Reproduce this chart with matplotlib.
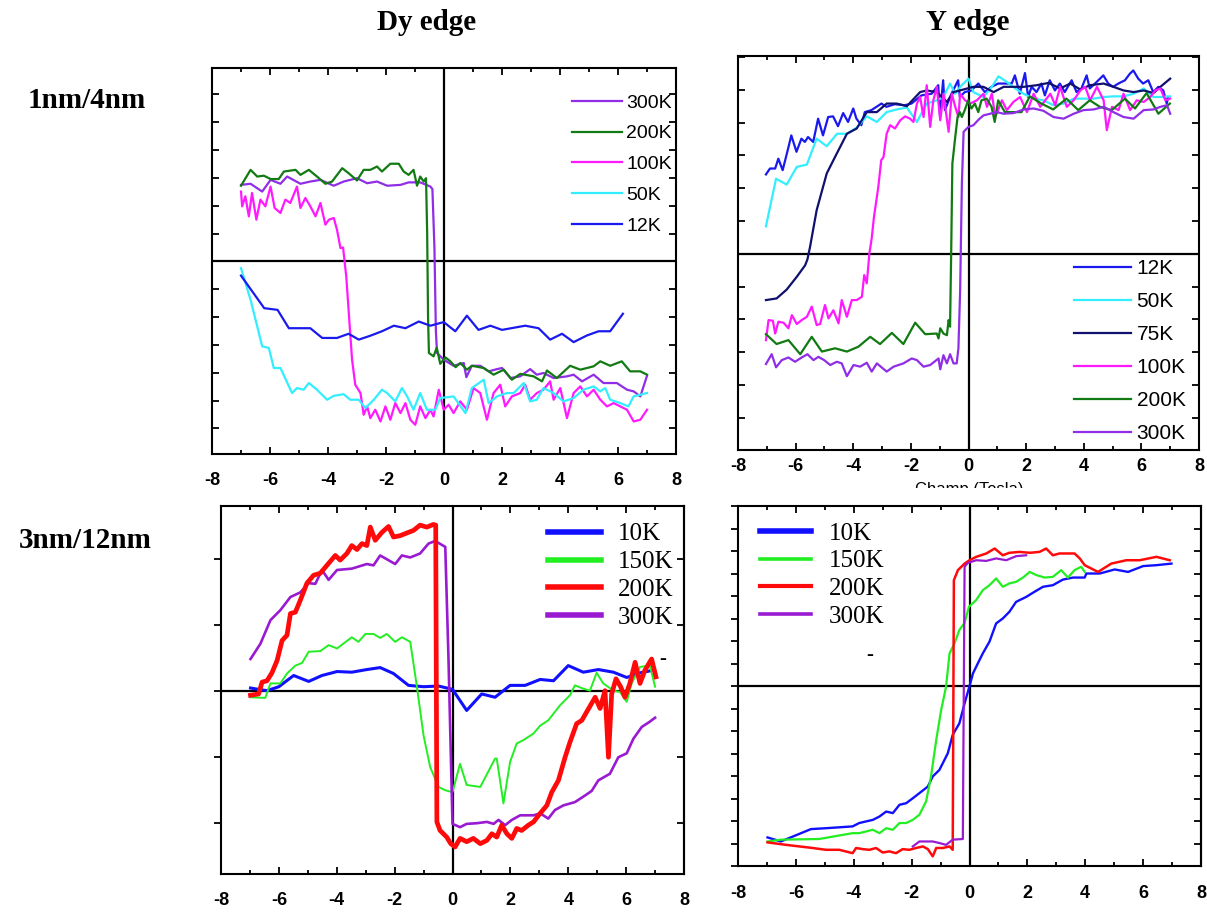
import matplotlib
matplotlib.use('Agg')
import matplotlib.pyplot as plt
from matplotlib.lines import Line2D
from matplotlib.ticker import MultipleLocator
from matplotlib.patches import Rectangle

plt.rcParams['axes.unicode_minus'] = False

# ---------------- DATA ----------------
# Panel 1: Dy edge, 1nm/4nm
p1_300K_x = [-7.0, -6.67, -6.27, -5.98, -5.64, -5.41, -4.95, -4.61, -4.26, -3.80, -3.46, -3.0, -2.65, -2.31, -1.96, -1.5, -1.22, -0.82, -0.47, -0.40, -0.33, -0.28, -0.24, -0.01, 0.33, 0.68, 0.77, 0.96, 1.25, 1.54, 1.83, 2.0, 2.29, 2.63, 2.97, 3.2, 3.43, 3.78, 4.24, 4.47, 4.76, 5.16, 5.5, 5.96, 6.31, 6.54, 6.77, 7.0]
p1_300K_y = [2.75, 2.79, 2.51, 2.93, 2.79, 3.05, 2.79, 2.87, 2.93, 2.72, 2.87, 2.99, 2.81, 2.87, 2.72, 2.75, 2.84, 2.84, 2.69, 2.60, 0.5, -2.5, -3.29, -3.53, -3.75, -3.65, -4.16, -3.75, -3.75, -3.95, -3.87, -3.83, -4.19, -4.13, -3.87, -4.07, -4.01, -4.19, -4.13, -4.07, -4.31, -4.07, -4.37, -4.37, -4.61, -4.67, -4.85, -4.11]

p1_200K_x = [-7.0, -6.67, -6.44, -6.21, -5.98, -5.70, -5.52, -5.12, -4.95, -4.66, -4.38, -4.09, -3.86, -3.51, -3.29, -3.0, -2.77, -2.54, -2.31, -2.14, -1.85, -1.56, -1.39, -1.22, -1.05, -0.93, -0.82, -0.70, -0.62, -0.58, -0.55, -0.52, -0.36, -0.25, -0.13, 0.05, 0.22, 0.40, 0.56, 0.79, 0.96, 1.37, 1.71, 2.06, 2.34, 2.63, 3.09, 3.38, 3.55, 3.89, 4.35, 4.70, 5.16, 5.39, 5.73, 6.13, 6.42, 6.77, 7.0]
p1_200K_y = [2.72, 3.29, 3.05, 3.08, 2.96, 2.96, 3.23, 3.29, 3.11, 3.29, 3.05, 2.79, 2.87, 3.35, 3.17, 2.91, 3.29, 3.29, 3.41, 3.23, 3.51, 3.51, 3.23, 3.11, 3.29, 2.72, 3.05, 2.87, 2.99, 1.0, -2.0, -3.29, -3.41, -3.10, -3.68, -3.45, -3.59, -3.80, -3.65, -3.89, -3.75, -3.83, -4.07, -3.89, -4.25, -4.04, -4.13, -4.31, -3.92, -4.19, -3.75, -3.89, -3.77, -3.59, -3.75, -3.59, -3.95, -3.95, -4.07]

p1_100K_x = [-7.0, -6.96, -6.85, -6.73, -6.62, -6.47, -6.33, -6.16, -5.98, -5.84, -5.64, -5.47, -5.30, -5.07, -4.95, -4.78, -4.61, -4.43, -4.26, -4.09, -3.97, -3.80, -3.69, -3.57, -3.48, -3.37, -3.25, -3.17, -3.06, -2.88, -2.77, -2.65, -2.54, -2.37, -2.19, -2.02, -1.85, -1.68, -1.50, -1.33, -1.16, -0.99, -0.82, -0.64, -0.47, -0.36, -0.18, -0.01, 0.16, 0.33, 0.56, 0.79, 1.02, 1.25, 1.48, 1.71, 1.94, 2.11, 2.34, 2.63, 2.80, 2.97, 3.20, 3.43, 3.66, 3.78, 4.01, 4.24, 4.47, 4.70, 4.93, 5.16, 5.39, 5.62, 5.85, 6.08, 6.31, 6.54, 6.77, 7.0]
p1_100K_y = [2.51, 1.98, 2.34, 1.62, 2.46, 1.50, 2.22, 1.98, 2.69, 1.92, 1.74, 2.22, 2.10, 2.69, 1.92, 2.28, 1.98, 1.62, 2.10, 1.32, 1.50, 1.56, 1.14, 0.48, 0.50, -0.54, -2.34, -3.53, -4.43, -4.73, -5.51, -5.21, -5.63, -5.33, -5.75, -5.21, -5.69, -5.09, -5.45, -5.09, -5.69, -5.87, -5.21, -5.63, -5.33, -5.57, -4.61, -5.33, -5.15, -5.45, -5.03, -5.33, -4.55, -4.73, -5.69, -4.73, -4.43, -5.21, -4.85, -4.73, -4.43, -4.97, -4.73, -4.61, -4.31, -4.97, -4.55, -5.63, -4.73, -4.49, -4.85, -4.61, -4.97, -5.21, -5.09, -5.21, -5.33, -5.75, -5.69, -5.33]

p1_50K_x = [-7.0, -6.67, -6.27, -6.04, -5.87, -5.64, -5.24, -5.07, -4.84, -4.66, -4.38, -4.03, -3.80, -3.46, -3.23, -2.94, -2.71, -2.42, -2.14, -1.96, -1.68, -1.45, -1.27, -1.05, -0.82, -0.59, -0.30, -0.13, 0.33, 0.74, 0.96, 1.37, 1.54, 1.83, 2.17, 2.40, 2.75, 2.97, 3.20, 3.43, 3.78, 4.12, 4.47, 4.81, 5.16, 5.39, 5.56, 5.73, 6.08, 6.36, 6.54, 7.0]
p1_50K_y = [-0.24, -1.38, -3.05, -3.11, -3.83, -3.83, -4.73, -4.55, -4.61, -4.37, -4.61, -4.97, -4.83, -4.77, -4.97, -4.97, -5.27, -4.97, -4.61, -4.73, -5.03, -4.55, -4.85, -5.33, -4.73, -5.33, -5.33, -4.91, -4.85, -5.45, -4.55, -4.25, -5.09, -4.85, -4.73, -4.73, -4.37, -5.03, -4.97, -4.55, -4.73, -5.03, -4.91, -4.61, -4.49, -4.67, -4.55, -4.97, -5.09, -5.21, -4.85, -4.73]

p1_12K_x = [-7.0, -6.2, -5.74, -5.35, -4.61, -4.20, -3.69, -3.29, -2.94, -2.54, -2.14, -1.73, -1.33, -0.87, -0.47, -0.01, 0.39, 0.79, 1.19, 1.60, 2.0, 2.80, 3.26, 3.66, 4.07, 4.47, 4.93, 5.33, 5.73, 6.17]
p1_12K_y = [-0.51, -1.68, -1.74, -2.40, -2.40, -2.75, -2.75, -2.60, -2.81, -2.67, -2.51, -2.31, -2.40, -2.16, -2.31, -2.18, -2.51, -1.95, -2.46, -2.31, -2.46, -2.31, -2.40, -2.81, -2.60, -2.90, -2.66, -2.51, -2.51, -1.88]

# Panel 2: Y edge, 1nm/4nm
p2_12K_x = [-7.03, -6.89, -6.71, -6.60, -6.45, -6.26, -6.15, -5.97, -5.80, -5.68, -5.57, -5.39, -5.22, -5.05, -4.87, -4.70, -4.53, -4.35, -4.18, -4.00, -3.89, -3.72, -3.60, -3.37, -3.02, -2.85, -2.56, -2.21, -1.98, -1.63, -1.28, -1.05, -0.99, -0.88, -0.82, -0.59, -0.36, -0.30, -0.13, 0.10, 0.34, 0.57, 0.80, 1.03, 1.32, 1.50, 1.61, 1.78, 1.96, 2.07, 2.19, 2.36, 2.53, 2.65, 2.82, 3.00, 3.17, 3.34, 3.58, 3.75, 3.92, 4.10, 4.21, 4.39, 4.68, 4.85, 5.02, 5.20, 5.43, 5.60, 5.72, 5.89, 6.06, 6.24, 6.41, 6.59, 6.76, 6.88, 6.93]
p2_12K_y = [2.42, 2.60, 2.60, 2.90, 2.55, 3.21, 3.61, 3.11, 3.51, 3.41, 3.56, 3.41, 4.12, 3.61, 4.17, 4.19, 3.89, 4.29, 4.02, 4.43, 4.12, 3.92, 4.32, 4.38, 4.58, 4.48, 4.56, 4.53, 4.58, 4.83, 4.88, 5.14, 4.22, 5.29, 4.38, 4.88, 5.29, 4.78, 4.93, 4.98, 5.19, 4.93, 5.09, 5.19, 5.19, 5.19, 5.44, 4.88, 5.51, 4.78, 5.09, 4.93, 5.19, 4.83, 5.29, 4.98, 5.19, 4.93, 5.29, 4.93, 5.04, 5.44, 5.04, 5.19, 5.44, 5.19, 5.09, 5.19, 5.29, 5.49, 5.59, 5.34, 5.19, 5.29, 4.93, 5.09, 4.98, 4.58, 4.78]

p2_50K_x = [-7.03, -6.68, -6.31, -5.96, -5.61, -5.27, -4.92, -4.56, -4.22, -3.88, -3.53, -3.18, -2.84, -2.49, -2.14, -1.79, -1.45, -1.09, -0.87, -0.64, -0.46, -0.29, 0.0, 0.17, 0.52, 0.81, 1.04, 1.33, 1.62, 1.91, 2.26, 2.60, 2.95, 3.30, 3.65, 3.99, 4.34, 4.69, 5.03, 5.38, 5.73, 6.08, 6.42, 6.66, 7.0]
p2_50K_y = [0.84, 2.29, 2.11, 2.65, 2.72, 3.51, 3.28, 3.66, 3.66, 3.85, 4.19, 4.02, 4.32, 4.40, 4.46, 4.02, 4.58, 4.68, 4.78, 5.19, 4.88, 5.09, 5.34, 4.93, 4.78, 5.09, 5.41, 5.24, 5.04, 4.88, 4.73, 4.68, 4.53, 4.58, 4.73, 4.73, 4.73, 4.78, 4.80, 4.80, 4.88, 5.04, 4.78, 4.78, 4.80]

p2_75K_x = [-7.03, -6.66, -6.31, -5.96, -5.67, -5.59, -5.50, -5.27, -4.92, -4.57, -4.22, -3.88, -3.53, -3.18, -2.84, -2.49, -2.14, -1.68, -1.45, -1.10, -0.75, -0.52, -0.17, 0.17, 0.52, 0.87, 1.22, 1.56, 1.91, 2.37, 2.78, 3.18, 3.53, 3.88, 4.22, 4.69, 5.03, 5.38, 5.73, 6.08, 6.42, 6.66, 7.0]
p2_75K_y = [-1.41, -1.36, -1.09, -0.70, -0.35, -0.17, 0.21, 1.33, 2.45, 3.06, 3.66, 3.82, 4.32, 4.32, 4.58, 4.58, 4.50, 4.93, 4.98, 4.93, 4.63, 4.93, 5.01, 5.09, 5.09, 4.93, 5.09, 5.09, 5.09, 5.14, 5.21, 5.04, 5.19, 5.01, 5.14, 5.19, 5.09, 4.98, 4.93, 4.98, 4.90, 5.09, 5.34]

p2_100K_x = [-7.03, -6.94, -6.79, -6.71, -6.60, -6.42, -6.25, -6.13, -5.96, -5.79, -5.61, -5.44, -5.27, -5.15, -4.98, -4.86, -4.69, -4.51, -4.40, -4.22, -4.05, -3.88, -3.70, -3.62, -3.53, -3.44, -3.36, -3.28, -3.13, -3.03, -2.95, -2.84, -2.72, -2.55, -2.37, -2.20, -2.03, -1.91, -1.79, -1.68, -1.56, -1.45, -1.33, -1.22, -1.10, -0.98, -0.87, -0.69, -0.58, -0.46, -0.35, -0.29, -0.12, 0.06, 0.29, 0.52, 0.64, 0.81, 0.93, 1.16, 1.33, 1.56, 1.79, 2.03, 2.26, 2.49, 2.84, 3.01, 3.18, 3.41, 3.65, 3.88, 4.05, 4.22, 4.46, 4.69, 4.80, 4.98, 5.21, 5.38, 5.61, 5.84, 6.08, 6.31, 6.48, 6.66, 6.83, 7.0]
p2_100K_y = [-2.63, -2.02, -2.04, -2.43, -2.07, -2.10, -2.27, -1.87, -2.14, -2.02, -1.92, -1.61, -2.17, -2.14, -1.56, -1.97, -1.72, -2.12, -1.41, -1.92, -1.41, -1.41, -1.31, -0.65, -0.90, 0.01, 0.47, 1.13, 2.04, 2.85, 2.95, 3.66, 3.92, 3.82, 4.07, 4.19, 4.12, 4.02, 4.58, 4.78, 4.17, 5.14, 3.87, 4.68, 5.09, 4.07, 4.88, 3.72, 4.88, 4.48, 4.17, 4.88, 4.68, 4.58, 4.68, 4.88, 4.48, 4.88, 4.17, 4.68, 4.38, 4.63, 4.78, 4.32, 4.88, 4.48, 4.88, 4.53, 5.09, 4.48, 4.68, 4.98, 5.09, 4.68, 5.09, 4.68, 3.77, 4.48, 4.38, 4.88, 4.38, 4.68, 4.63, 4.78, 4.98, 5.04, 4.68, 4.73]

p2_200K_x = [-7.03, -6.66, -6.25, -5.84, -5.44, -5.09, -4.63, -4.22, -3.82, -3.41, -3.07, -2.66, -2.26, -1.85, -1.50, -1.10, -1.04, -0.98, -0.87, -0.75, -0.69, -0.64, -0.60, -0.56, -0.46, -0.38, -0.30, -0.23, -0.13, -0.01, 0.10, 0.22, 0.34, 0.45, 0.63, 0.80, 0.91, 1.03, 1.26, 1.49, 1.84, 2.13, 2.53, 2.94, 3.40, 3.81, 4.21, 4.56, 4.97, 5.43, 5.78, 6.18, 6.59, 6.99]
p2_200K_y = [-2.45, -2.75, -2.63, -3.06, -2.53, -2.98, -2.88, -2.98, -2.83, -2.53, -2.75, -2.41, -2.75, -2.10, -2.45, -2.43, -2.58, -2.27, -2.43, -2.48, -2.02, -2.22, 0.11, 2.75, 3.56, 4.17, 4.32, 4.17, 4.38, 4.68, 4.43, 4.58, 4.32, 4.68, 4.73, 4.48, 4.02, 4.68, 4.32, 4.32, 4.32, 4.80, 4.58, 4.40, 4.73, 4.38, 4.68, 4.48, 4.38, 4.73, 4.43, 4.90, 4.27, 4.58]

p2_300K_x = [-7.03, -6.83, -6.68, -6.48, -6.25, -6.02, -5.79, -5.59, -5.38, -5.21, -5.01, -4.80, -4.57, -4.40, -4.22, -3.99, -3.76, -3.53, -3.36, -3.18, -2.84, -2.60, -2.26, -1.97, -1.79, -1.56, -1.33, -1.04, -0.98, -0.87, -0.75, -0.64, -0.52, -0.41, -0.35, -0.29, -0.23, -0.17, 0.0, 0.17, 0.35, 0.52, 0.75, 0.98, 1.22, 1.56, 1.91, 2.26, 2.60, 2.95, 3.30, 3.65, 3.99, 4.34, 4.69, 5.03, 5.38, 5.73, 6.08, 6.42, 6.66, 6.89, 7.0]
p2_300K_y = [-3.36, -3.06, -3.46, -3.24, -3.16, -3.29, -3.16, -3.06, -3.24, -3.14, -3.24, -3.39, -3.29, -3.34, -3.73, -3.39, -3.44, -3.32, -3.59, -3.34, -3.59, -3.44, -3.34, -3.19, -3.24, -3.44, -3.39, -3.19, -3.52, -3.09, -3.34, -3.06, -3.34, -3.34, -2.88, -1.11, 2.14, 3.72, 3.87, 3.92, 4.09, 4.22, 4.27, 4.32, 4.27, 4.29, 4.40, 4.43, 4.36, 4.17, 4.12, 4.27, 4.38, 4.40, 4.48, 4.32, 4.17, 4.12, 4.38, 4.40, 4.48, 4.53, 4.27]

# Panel 3: Dy edge, 3nm/12nm
p3_10K_x = [-6.98, -6.70, -6.41, -6.0, -5.49, -4.97, -4.51, -3.99, -3.48, -2.96, -2.50, -2.04, -1.52, -1.0, -0.48, 0.0, 0.49, 1.01, 1.47, 1.99, 2.51, 3.03, 3.49, 4.0, 4.52, 5.04, 5.56, 6.02, 6.48, 6.94]
p3_10K_y = [0.04, 0.02, 0.0, 0.06, 0.23, 0.14, 0.23, 0.29, 0.28, 0.32, 0.35, 0.26, 0.08, 0.06, 0.07, 0.02, -0.30, -0.05, -0.10, 0.08, 0.08, 0.17, 0.15, 0.38, 0.28, 0.32, 0.28, 0.20, 0.27, 0.31]

p3_150K_x = [-6.98, -6.47, -6.29, -5.95, -5.72, -5.43, -5.20, -4.97, -4.57, -4.28, -3.99, -3.48, -3.25, -3.01, -2.73, -2.50, -2.27, -1.98, -1.75, -1.46, -1.23, -1.0, -0.77, -0.48, -0.25, 0.0, 0.26, 0.49, 0.96, 1.47, 1.53, 1.76, 1.99, 2.22, 2.45, 2.80, 3.03, 3.31, 3.72, 4.06, 4.23, 4.52, 4.75, 4.98, 5.21, 5.56, 5.79, 6.02, 6.19, 6.48, 6.82, 7.0]
p3_150K_y = [-0.10, -0.11, 0.11, 0.11, 0.26, 0.38, 0.42, 0.59, 0.60, 0.69, 0.64, 0.81, 0.74, 0.86, 0.86, 0.80, 0.86, 0.74, 0.81, 0.74, 0.06, -0.68, -1.16, -1.46, -1.51, -1.54, -1.11, -1.43, -1.46, -1.03, -1.03, -1.71, -1.08, -0.80, -0.75, -0.65, -0.53, -0.45, -0.22, -0.07, 0.08, 0.03, 0.0, 0.27, 0.11, 0.0, -0.02, -0.17, 0.11, 0.36, 0.38, 0.06]

p3_200K_x = [-6.98, -6.70, -6.58, -6.41, -6.24, -6.06, -5.89, -5.72, -5.60, -5.43, -5.26, -5.03, -4.80, -4.57, -4.34, -4.05, -3.88, -3.65, -3.48, -3.30, -3.13, -2.96, -2.84, -2.67, -2.44, -2.21, -2.04, -1.81, -1.58, -1.35, -1.12, -0.89, -0.66, -0.58, -0.54, -0.43, -0.20, -0.06, 0.09, 0.26, 0.49, 0.72, 0.96, 1.19, 1.36, 1.53, 1.70, 1.88, 2.05, 2.22, 2.39, 2.62, 2.80, 3.03, 3.26, 3.43, 3.66, 3.89, 4.06, 4.29, 4.47, 4.64, 4.93, 5.10, 5.27, 5.39, 5.50, 5.65, 5.81, 5.96, 6.13, 6.31, 6.48, 6.65, 6.88, 7.03]
p3_200K_y = [-0.07, -0.05, 0.13, 0.15, 0.27, 0.46, 0.76, 0.84, 1.17, 1.19, 1.37, 1.63, 1.75, 1.78, 1.90, 2.05, 1.98, 2.08, 2.20, 2.14, 2.23, 2.20, 2.48, 2.28, 2.40, 2.49, 2.33, 2.35, 2.39, 2.43, 2.51, 2.48, 2.52, 2.51, -1.99, -2.12, -2.22, -2.32, -2.37, -2.24, -2.29, -2.24, -2.32, -2.27, -2.17, -2.22, -2.04, -2.17, -2.24, -2.09, -2.12, -2.04, -1.99, -1.86, -1.74, -1.54, -1.36, -1.01, -0.78, -0.50, -0.45, -0.32, -0.10, -0.27, 0.0, -1.01, -0.05, 0.18, 0.06, -0.10, 0.11, 0.43, 0.11, 0.31, 0.48, 0.21]

p3_300K_x = [-6.98, -6.64, -6.29, -5.95, -5.60, -5.26, -4.97, -4.74, -4.51, -4.28, -3.99, -3.48, -2.96, -2.73, -2.50, -1.98, -1.75, -1.46, -1.12, -0.83, -0.60, -0.25, -0.14, 0.0, 0.26, 0.49, 0.84, 1.19, 1.42, 1.59, 1.82, 2.05, 2.34, 2.80, 3.03, 3.31, 3.54, 3.83, 4.23, 4.58, 4.81, 5.04, 5.44, 5.73, 6.02, 6.25, 6.54, 6.82, 7.0]
p3_300K_y = [0.48, 0.71, 1.07, 1.22, 1.42, 1.49, 1.63, 1.62, 1.83, 1.68, 1.83, 1.85, 1.92, 1.90, 2.05, 1.92, 2.05, 2.02, 2.08, 2.23, 2.27, 2.18, 0.51, -2.02, -2.07, -2.02, -2.01, -1.99, -2.02, -1.96, -2.04, -1.96, -1.89, -1.89, -1.86, -1.94, -1.81, -1.74, -1.69, -1.59, -1.52, -1.36, -1.26, -1.01, -0.95, -0.73, -0.55, -0.47, -0.41]

# Panel 4: Y edge, 3nm/12nm
p4_10K_x = [-6.98, -6.52, -5.48, -4.96, -4.04, -3.81, -3.58, -3.34, -3.11, -2.88, -2.65, -2.42, -2.19, -1.96, -1.73, -1.44, -1.27, -1.04, -0.75, -0.58, -0.35, -0.17, -0.02, 0.12, 0.29, 0.46, 0.69, 0.92, 1.15, 1.38, 1.61, 1.96, 2.25, 2.54, 2.88, 3.23, 3.58, 3.98, 4.04, 4.50, 5.02, 5.48, 6.0, 6.46, 6.98]
p4_10K_y = [-6.73, -6.91, -6.36, -6.32, -6.24, -6.09, -6.02, -5.95, -5.80, -5.58, -5.65, -5.28, -5.21, -4.99, -4.76, -4.47, -4.02, -3.73, -2.99, -2.17, -1.66, -0.77, -0.10, 0.56, 1.01, 1.45, 1.97, 2.78, 3.0, 3.30, 3.74, 3.96, 4.19, 4.41, 4.48, 4.73, 4.82, 4.82, 5.0, 5.0, 5.18, 5.07, 5.33, 5.37, 5.44]

p4_150K_x = [-6.98, -6.52, -5.19, -4.04, -3.81, -3.34, -3.11, -2.88, -2.65, -2.42, -2.19, -1.96, -1.73, -1.50, -1.33, -1.15, -0.98, -0.81, -0.69, -0.52, -0.35, -0.17, -0.02, 0.23, 0.46, 0.69, 0.92, 1.15, 1.38, 1.61, 1.85, 2.08, 2.31, 2.60, 2.88, 3.17, 3.40, 3.63, 3.86, 3.98]
p4_150K_y = [-6.91, -6.83, -6.80, -6.54, -6.54, -6.39, -6.54, -6.32, -6.39, -6.09, -6.09, -5.95, -5.72, -5.13, -4.02, -2.40, -1.07, -0.03, 1.45, 1.89, 2.49, 2.81, 3.52, 3.82, 4.26, 4.48, 4.78, 4.41, 4.56, 4.63, 4.82, 5.07, 4.93, 4.82, 4.85, 5.15, 4.82, 5.15, 5.30, 5.07]

p4_200K_x = [-6.98, -6.34, -5.42, -4.96, -4.50, -4.04, -3.92, -3.69, -3.46, -3.23, -3.0, -2.77, -2.54, -2.31, -2.08, -1.85, -1.61, -1.44, -1.27, -1.15, -0.92, -0.69, -0.58, -0.54, -0.40, -0.17, 0.0, 0.23, 0.58, 0.87, 1.15, 1.38, 1.73, 2.08, 2.42, 2.65, 2.88, 3.11, 3.40, 3.63, 3.81, 3.98, 4.44, 4.90, 5.42, 5.88, 6.46, 6.92]
p4_200K_y = [-6.95, -7.06, -7.20, -7.28, -7.28, -7.43, -7.20, -7.25, -7.28, -7.20, -7.40, -7.35, -7.43, -7.25, -7.28, -7.20, -7.13, -7.25, -7.57, -7.20, -7.20, -7.13, -7.28, 4.70, 5.15, 5.44, 5.59, 5.74, 5.89, 6.11, 5.81, 5.92, 5.96, 5.92, 5.96, 6.11, 5.81, 5.89, 5.89, 5.89, 5.67, 5.37, 5.07, 5.44, 5.59, 5.59, 5.74, 5.59]

p4_300K_x = [-1.96, -1.73, -1.50, -1.27, -1.04, -0.81, -0.58, -0.23, -0.17, -0.06, 0.23, 0.58, 0.92, 1.27, 1.61, 1.96]
p4_300K_y = [-7.13, -6.91, -6.91, -6.91, -6.98, -7.06, -6.83, -6.80, 5.30, 5.47, 5.59, 5.56, 5.67, 5.59, 5.77, 5.81]

col_titles = ["Dy edge", "Y edge"]
row_titles = ["1nm/4nm", "3nm/12nm"]
x_label = "Champ (Tesla)"

# ---------------- FIGURE ----------------
W, H = 1207, 915
fig = plt.figure(figsize=(W / 100, H / 100), dpi=100)


def rect(l, t, r, b):
    return [l / W, 1 - b / H, (r - l) / W, (b - t) / H]


SANS = 'Liberation Sans'
SERIF = 'Liberation Serif'


def setup(ax, ylim, ystep, pad, bottom_style=False):
    ax.set_xlim(-8, 8)
    ax.set_ylim(*ylim)
    ax.xaxis.set_major_locator(MultipleLocator(2))
    ax.xaxis.set_minor_locator(MultipleLocator(1))
    ax.yaxis.set_major_locator(MultipleLocator(ystep))
    ax.tick_params(axis='x', which='both', direction='in', top=True, bottom=True,
                   width=1.3, pad=pad, labelsize=13)
    ax.tick_params(axis='x', which='major', length=5)
    ax.tick_params(axis='x', which='minor', length=3)
    if bottom_style:
        ax.tick_params(axis='y', direction='out', left=True, right=False,
                       length=5, width=1.3, labelleft=False)
        sec = ax.secondary_yaxis('right')
        sec.yaxis.set_major_locator(MultipleLocator(ystep))
        sec.tick_params(direction='in', length=5, width=1.3, labelright=False)
        sec.spines['right'].set_linewidth(1.5)
    else:
        ax.tick_params(axis='y', direction='in', left=True, right=True,
                       length=5, width=1.3, labelleft=False)
    for lab in ax.get_xticklabels():
        lab.set_fontweight('bold')
        lab.set_fontfamily(SANS)
    for s in ax.spines.values():
        s.set_linewidth(1.5)
    ax.axhline(0, color='black', lw=1.6, zorder=1.5)
    ax.axvline(0, color='black', lw=1.6, zorder=1.5)


def legend(ax, handles, labels, x_px, y_px, fs, family, hl, htp, ls):
    ax.legend(handles, labels, loc='upper left',
              bbox_to_anchor=(x_px / W, 1 - y_px / H), bbox_transform=fig.transFigure,
              frameon=False, borderpad=0, borderaxespad=0, handlelength=hl,
              handletextpad=htp, labelspacing=ls, prop={'family': family, 'size': fs})


# Panel 1
ax1 = fig.add_axes(rect(212, 68, 676, 454))
setup(ax1, (-6.92, 6.95), 1, 13)
c_pur, c_grn, c_mag, c_cyn, c_blu, c_nav = '#8f2ee6', '#127a12', '#ff19ff', '#33eeff', '#1a1aee', '#10106e'
l300, = ax1.plot(p1_300K_x, p1_300K_y, color=c_pur, lw=1.6)
l200, = ax1.plot(p1_200K_x, p1_200K_y, color=c_grn, lw=1.6)
l100, = ax1.plot(p1_100K_x, p1_100K_y, color=c_mag, lw=1.6)
l50, = ax1.plot(p1_50K_x, p1_50K_y, color=c_cyn, lw=1.6)
l12, = ax1.plot(p1_12K_x, p1_12K_y, color=c_blu, lw=1.6)
legend(ax1, [l300, l200, l100, l50, l12], ['300K', '200K', '100K', '50K', '12K'],
       572, 94, 14, SANS, 2.55, 0.25, 0.68)

# Panel 2
ax2 = fig.add_axes(rect(738, 56, 1199, 450))
setup(ax2, (-5.98, 6.03), 1, 6)
m12, = ax2.plot(p2_12K_x, p2_12K_y, color=c_blu, lw=1.6)
m50, = ax2.plot(p2_50K_x, p2_50K_y, color=c_cyn, lw=1.6)
m75, = ax2.plot(p2_75K_x, p2_75K_y, color=c_nav, lw=1.6)
m100, = ax2.plot(p2_100K_x, p2_100K_y, color=c_mag, lw=1.6)
m200, = ax2.plot(p2_200K_x, p2_200K_y, color=c_grn, lw=1.6)
m300, = ax2.plot(p2_300K_x, p2_300K_y, color=c_pur, lw=1.6)
legend(ax2, [m12, m50, m75, m100, m200, m300], ['12K', '50K', '75K', '100K', '200K', '300K'],
       1074, 259, 15, SANS, 2.75, 0.25, 0.67)

# Panel 3
b_blu, b_grn, b_red, b_pur = '#1010ff', '#22ee22', '#ff0a0a', '#9a1ad2'
ax3 = fig.add_axes(rect(221, 506, 684, 874))
setup(ax3, (-2.78, 2.80), 1, 13, bottom_style=True)
ax3.plot(p3_10K_x, p3_10K_y, color=b_blu, lw=2.2)
ax3.plot(p3_150K_x, p3_150K_y, color=b_grn, lw=1.4)
ax3.plot(p3_300K_x, p3_300K_y, color=b_pur, lw=1.9)
ax3.plot(p3_200K_x, p3_200K_y, color=b_red, lw=3.4)
ax3.text(7.25, 0.48, '-', ha='center', va='center', fontsize=15, family=SERIF)
h3 = [Line2D([], [], color=b_blu, lw=4), Line2D([], [], color=b_grn, lw=4),
      Line2D([], [], color=b_red, lw=4), Line2D([], [], color=b_pur, lw=4)]
legend(ax3, h3, ['10K', '150K', '200K', '300K'], 548, 523, 18, SERIF, 2.1, 0.7, 0.21)

# Panel 4
ax4 = fig.add_axes(rect(738, 506, 1201, 866))
setup(ax4, (-8, 8), 1, 14, bottom_style=True)
ax4.plot(p4_10K_x, p4_10K_y, color=b_blu, lw=1.7)
ax4.plot(p4_150K_x, p4_150K_y, color=b_grn, lw=1.6)
ax4.plot(p4_200K_x, p4_200K_y, color=b_red, lw=1.8)
ax4.plot(p4_300K_x, p4_300K_y, color=b_pur, lw=1.6)
ax4.text(-3.46, 1.35, '-', ha='center', va='center', fontsize=15, family=SERIF)
h4 = [Line2D([], [], color=b_blu, lw=4), Line2D([], [], color=b_grn, lw=2.6),
      Line2D([], [], color=b_red, lw=3), Line2D([], [], color=b_pur, lw=2.6)]
legend(ax4, h4, ['10K', '150K', '200K', '300K'], 760, 522, 18, SERIF, 2.05, 0.7, 0.21)

# Titles and row labels
fig.text(427 / W, 1 - 22 / H, col_titles[0], ha='center', va='center',
         fontsize=21, fontweight='bold', family=SERIF)
fig.text(968 / W, 1 - 23 / H, col_titles[1], ha='center', va='center',
         fontsize=21, fontweight='bold', family=SERIF)
fig.text(87 / W, 1 - 100 / H, row_titles[0], ha='center', va='center',
         fontsize=21, fontweight='bold', family=SERIF)
fig.text(85 / W, 1 - 541 / H, row_titles[1], ha='center', va='center',
         fontsize=21, fontweight='bold', family=SERIF)

# Partially hidden axis label under the top-right panel
fig.text(969 / W, 1 - 482 / H, x_label, ha='center', va='top', fontsize=12, family=SANS)
fig.patches.append(Rectangle((850 / W, 1 - 504 / H), 260 / W, 16 / H,
                             transform=fig.transFigure, facecolor='white',
                             edgecolor='none', zorder=10))

fig.savefig('out.png', dpi=100)
